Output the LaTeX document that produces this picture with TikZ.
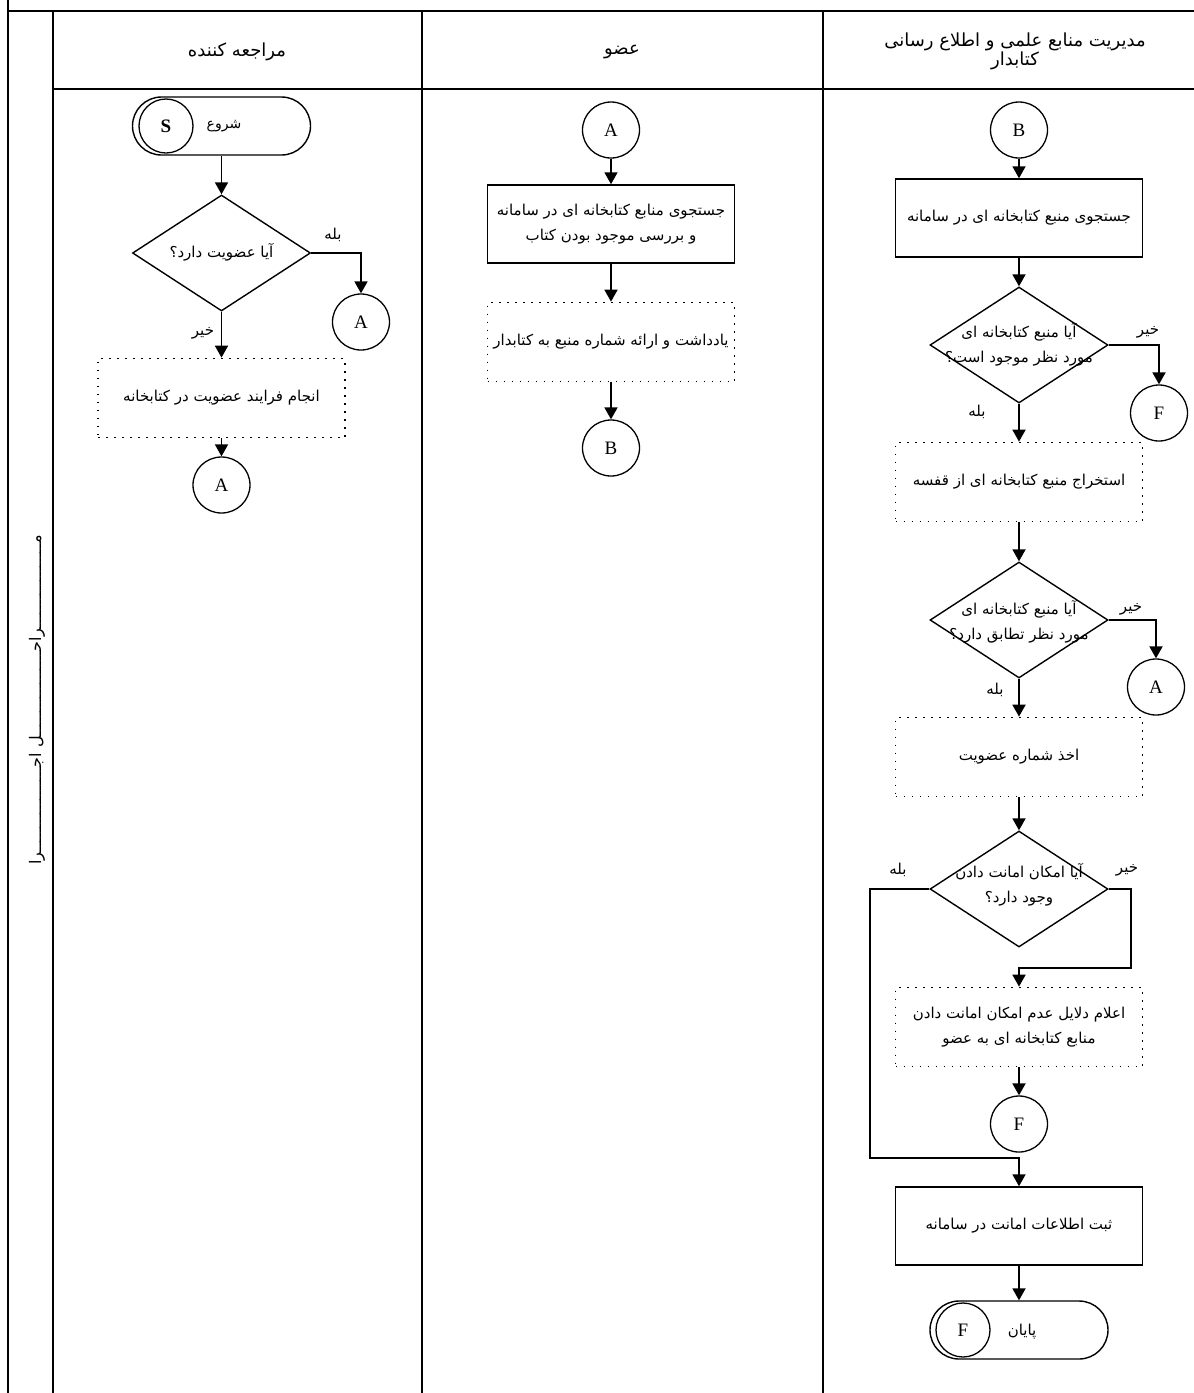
\documentclass[tikz,border=0pt]{standalone}
\usepackage{fontspec}
\setmainfont{Liberation Serif}
\newfontfamily\farsifont[Script=Arabic]{DejaVu Sans}
\TeXXeTstate=1
\usetikzlibrary{shapes.geometric,arrows.meta}
\newcommand{\fatext}[1]{{\farsifont\beginR #1\endR}}
\begin{document}
\begin{tikzpicture}[x=1pt,y=-1pt,
  lane/.style={line width=1.8pt},
  box/.style={draw, line width=1.5pt, minimum width=247pt, minimum height=78pt, inner sep=0pt, align=center, font=\fontsize{15}{25}\selectfont},
  dbox/.style={draw, line width=1.7pt, dash pattern=on 1.7pt off 6.3pt, minimum width=247pt, minimum height=79pt, inner sep=0pt, align=center, font=\fontsize{15}{25}\selectfont},
  conn/.style={draw, ellipse, line width=1.3pt, minimum width=57pt, minimum height=56pt, inner sep=0pt, font=\fontsize{19}{19}\selectfont},
  dec/.style={draw, diamond, line width=1.4pt, minimum width=178pt, minimum height=116pt, inner sep=0pt},
  dtext/.style={align=center, font=\fontsize{15}{25}\selectfont, inner sep=0pt},
  term/.style={draw, rectangle, rounded corners=29pt, line width=1.4pt, minimum width=178pt, minimum height=58pt, inner sep=0pt},
  tcirc/.style={draw, circle, line width=1.3pt, minimum size=54pt, inner sep=0pt, font=\fontsize{19}{19}\selectfont},
  arr/.style={line width=1.8pt, -{Triangle[length=12pt,width=13pt]}},
  lbl/.style={font=\fontsize{15}{15}\selectfont, inner sep=0pt},
  head/.style={font=\fontsize{18}{18}\selectfont, align=center}
]
\useasboundingbox (0,0) rectangle (1194,1393);
% swimlane frame
\draw[lane] (8,0) -- (8,1393);
\draw[lane] (8,11) -- (1194,11);
\draw[lane] (53,11) -- (53,1393);
\draw[lane] (53,89) -- (1194,89);
\draw[lane] (422,11) -- (422,1393);
\draw[lane] (823,11) -- (823,1393);
% headers
\node[head] (h1) at (237,52) {\fatext{مراجعه کننده}};
\node[head] (h2) at (622,52) {\fatext{عضو}};
\node[head] (h3) at (1015,51) {\fatext{مدیریت منابع علمی و اطلاع رسانی}\\\fatext{کتابدار}};
\node[rotate=90, font=\fontsize{16}{16}\selectfont] (stage) at (37,700) {\fatext{مــــــــــــــــــراحــــــــــــــــــل اجــــــــــــــــــرا}};

% ---------- lane 1 ----------
\node[term] (start) at (221.5,126) {};
\node[tcirc, font=\fontsize{19}{19}\selectfont\bfseries] (sc) at (166,126) {S};
\node[font=\fontsize{14}{14}\selectfont] (st) at (224,126) {\fatext{شروع}};
\node[dec] (d1) at (221.5,253) {};
\node[dtext] (d1t) at (221.5,252) {\fatext{آیا عضویت دارد؟}};
\node[conn] (a1) at (361,322) {A};
\node[dbox] (p1) at (221.5,398) {\fatext{انجام فرایند عضویت در کتابخانه}};
\node[conn] (a2) at (221.5,485) {A};
\draw[arr] (start) -- (d1);
\draw[arr] (d1.east) -| (a1.north);
\draw[arr] (d1.south) -- (p1.north);
\draw[arr] (p1.south) -- (a2.north);
\node[lbl] (l1) at (333,235) {\fatext{بله}};
\node[lbl] (l2) at (203,333) {\fatext{خیر}};

% ---------- lane 2 ----------
\node[conn] (a3) at (611,130) {A};
\node[box] (b1) at (611,224) {\fatext{جستجوی منابع کتابخانه ای در سامانه}\\\fatext{و بررسی موجود بودن کتاب}};
\node[dbox] (p2) at (611,342) {\fatext{یادداشت و ارائه شماره منبع به کتابدار}};
\node[conn] (bb1) at (611,448) {B};
\draw[arr] (a3) -- (b1);
\draw[arr] (b1) -- (p2);
\draw[arr] (p2) -- (bb1);

% ---------- lane 3 ----------
\node[conn] (bb2) at (1019,130) {B};
\node[box] (b2) at (1019,218) {\fatext{جستجوی منبع کتابخانه ای در سامانه}};
\node[dec] (d2) at (1019,345) {};
\node[dtext] (d2t) at (1019,345) {\fatext{آیا منبع کتابخانه ای}\\\fatext{مورد نظر موجود است؟}};
\node[conn] (f1) at (1159,413) {F};
\node[dbox] (p3) at (1019,482) {\fatext{استخراج منبع کتابخانه ای از قفسه}};
\node[dec] (d3) at (1019,620) {};
\node[dtext] (d3t) at (1019,622) {\fatext{آیا منبع کتابخانه ای}\\\fatext{مورد نظر تطابق دارد؟}};
\node[conn] (a4) at (1156,687) {A};
\node[dbox] (p4) at (1019,757) {\fatext{اخذ شماره عضویت}};
\node[dec] (d4) at (1019,889) {};
\node[dtext] (d4t) at (1019,885) {\fatext{آیا امکان امانت دادن}\\\fatext{وجود دارد؟}};
\node[dbox] (p5) at (1019,1027) {\fatext{اعلام دلایل عدم امکان امانت دادن}\\\fatext{منابع کتابخانه ای به عضو}};
\node[conn] (f2) at (1019,1124) {F};
\node[box] (b3) at (1019,1226) {\fatext{ثبت اطلاعات امانت در سامانه}};
\node[term] (end) at (1019,1330) {};
\node[tcirc] (fc) at (963,1330) {F};
\node[font=\fontsize{15}{15}\selectfont] (et) at (1022,1332) {\fatext{پایان}};
\coordinate (k1) at (870,1158);
\coordinate (k2) at (1131,968);

\draw[arr] (bb2) -- (b2);
\draw[arr] (b2) -- (d2.north);
\draw[arr] (d2.east) -| (f1.north);
\draw[arr] (d2.south) -- (p3.north);
\draw[arr] (p3) -- (d3.north);
\draw[arr] (d3.east) -| (a4.north);
\draw[arr] (d3.south) -- (p4.north);
\draw[arr] (p4) -- (d4.north);
\draw[arr] (d4.east) -| (k2) -| (p5.north);
\draw[arr] (d4.west) -| (k1) -| (b3.north);
\draw[arr] (p5) -- (f2);
\draw[arr] (b3) -- (end);

\node[lbl] (l3) at (1148,332) {\fatext{خیر}};
\node[lbl] (l4) at (977,412) {\fatext{بله}};
\node[lbl] (l5) at (1131,609) {\fatext{خیر}};
\node[lbl] (l6) at (995,690) {\fatext{بله}};
\node[lbl] (l7) at (898,870) {\fatext{بله}};
\node[lbl] (l8) at (1127,870) {\fatext{خیر}};
\end{tikzpicture}
\end{document}
